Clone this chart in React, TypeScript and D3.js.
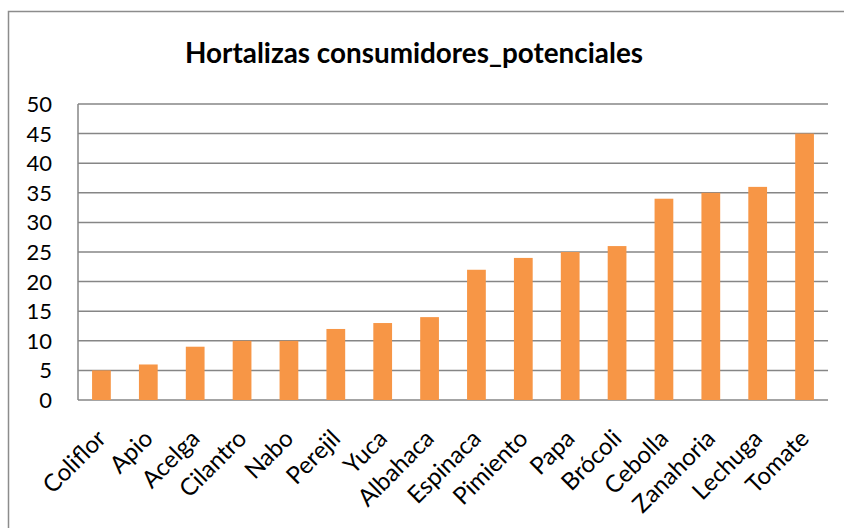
import React from "react";
import * as d3 from "d3";

const categories = ["Coliflor","Apio","Acelga","Cilantro","Nabo","Perejil","Yuca","Albahaca","Espinaca","Pimiento","Papa","Brócoli","Cebolla","Zanahoria","Lechuga","Tomate"];
const values = [5,6,9,10,10,12,13,14,22,24,25,26,34,35,36,45];
const yTicks = [0,5,10,15,20,25,30,35,40,45,50];
const title = "Hortalizas consumidores_potenciales";

const W = 844, H = 528;
const left = 78, right = 828, top = 104, bottom = 400;
const font = "Lato, 'Open Sans', sans-serif";

export default function App() {
  const x = d3.scaleBand<string>().domain(categories).range([left, right]).paddingInner(0.6).paddingOuter(0.3);
  const y = d3.scaleLinear().domain([0, 50]).range([bottom, top]);
  return (
    <svg width={W} height={H} style={{ position: "absolute", left: 0, top: 0, background: "#fff" }}>
      <rect x={8.5} y={11.5} width={W} height={H} fill="#fff" stroke="#8c8c8c" strokeWidth={1.5} />
      <text x={414} y={63} textAnchor="middle" fontFamily={font} fontWeight="bold" fontSize={28} textLength={458} lengthAdjust="spacingAndGlyphs">{title}</text>
      {yTicks.map(t => (
        <g key={t}>
          <line x1={left} x2={right} y1={y(t)} y2={y(t)} stroke="#868686" strokeWidth={1.5} />
          <text x={52} y={y(t) + 8} textAnchor="end" fontFamily={font} fontSize={22} fill="#000">{t}</text>
        </g>
      ))}
      <line x1={left} x2={left} y1={top} y2={bottom} stroke="#868686" strokeWidth={1.5} />
      {categories.map((c, i) => (
        <rect key={c} x={x(c)} y={y(values[i])} width={x.bandwidth()} height={bottom - y(values[i])} fill="#F79646" />
      ))}
      {categories.map(c => {
        const cx = (x(c) as number) + x.bandwidth() / 2 + 6;
        const cy = 440;
        return (
          <text key={c} x={cx} y={cy} transform={`rotate(-45 ${cx} ${cy})`} textAnchor="end" fontFamily={font} fontSize={24} fill="#000">{c}</text>
        );
      })}
    </svg>
  );
}
